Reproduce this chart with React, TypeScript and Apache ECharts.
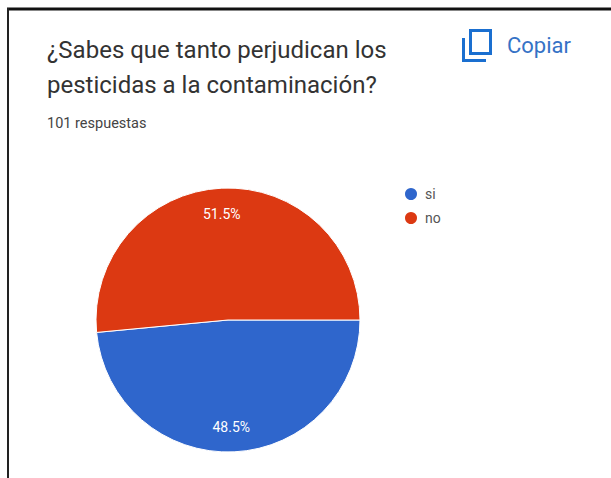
import React, { useEffect, useRef } from "react";
import * as echarts from "echarts";

const categories = ["si", "no"];
const values = [48.5, 51.5];
const colors = ["#2f66cc", "#dc3912"];
const titleLines = ["¿Sabes que tanto perjudican los", "pesticidas a la contaminación?"];
const subtitle = "101 respuestas";
const copyLabel = "Copiar";
const labelShift = [{ dx: 0, dy: 38 }, { dx: -3, dy: -37 }];

const copyIcon = "M0 9H3V30H24V33H0Z M7 0H30V26H7Z M10 3V23H27V3Z";

export default function App() {
  const ref = useRef<HTMLDivElement>(null);
  useEffect(() => {
    echarts.graphic.registerShape("copyIcon", echarts.graphic.extendPath(copyIcon, {}) as any);
    const chart = echarts.init(ref.current!, undefined, { renderer: "svg" });
    chart.setOption({
      animation: false,
      backgroundColor: "#ffffff",
      color: colors,
      legend: {
        orient: "vertical",
        left: 398,
        top: 181,
        icon: "circle",
        itemWidth: 14,
        itemHeight: 14,
        itemGap: 8,
        textStyle: { fontFamily: "Roboto", fontSize: 14, color: "#555555", padding: [0, 0, 0, 2] },
        data: categories,
      },
      series: [
        {
          type: "pie",
          center: [228, 320],
          radius: [0, 132],
          startAngle: 0,
          clockwise: true,
          itemStyle: { borderColor: "#ffffff", borderWidth: 1 },
          label: {
            show: true,
            position: "inside",
            formatter: (p: any) => p.value.toFixed(1) + "%",
            color: "#ffffff",
            fontFamily: "Roboto",
            fontSize: 14,
          },
          labelLayout: (p: any) => labelShift[p.dataIndex],
          labelLine: { show: false },
          data: categories.map((name, i) => ({ name, value: values[i] })),
        },
      ],
      graphic: [
        { type: "line", shape: { x1: 7, y1: 9, x2: 611, y2: 9 }, style: { stroke: "#111111", lineWidth: 3 } },
        { type: "line", shape: { x1: 8, y1: 8, x2: 8, y2: 478 }, style: { stroke: "#222222", lineWidth: 2 } },
        { type: "text", x: 47, y: 38, style: { text: titleLines[0], fontFamily: "Roboto", fontSize: 24, fill: "#333333" } },
        { type: "text", x: 47, y: 73, style: { text: titleLines[1], fontFamily: "Roboto", fontSize: 24, fill: "#333333" } },
        { type: "text", x: 47, y: 116, style: { text: subtitle, fontFamily: "Roboto", fontSize: 14.5, fill: "#444444" } },
        { type: "copyIcon", x: 462, y: 29, style: { fill: "#1a6fd0" } },
        { type: "text", x: 507, y: 34, style: { text: copyLabel, fontFamily: "Roboto", fontWeight: 400, fontSize: 22, fill: "#3572c6" } },
      ],
    });
    return () => chart.dispose();
  }, []);
  return <div ref={ref} style={{ position: "fixed", left: 0, top: 0, width: 611, height: 478 }} />;
}
